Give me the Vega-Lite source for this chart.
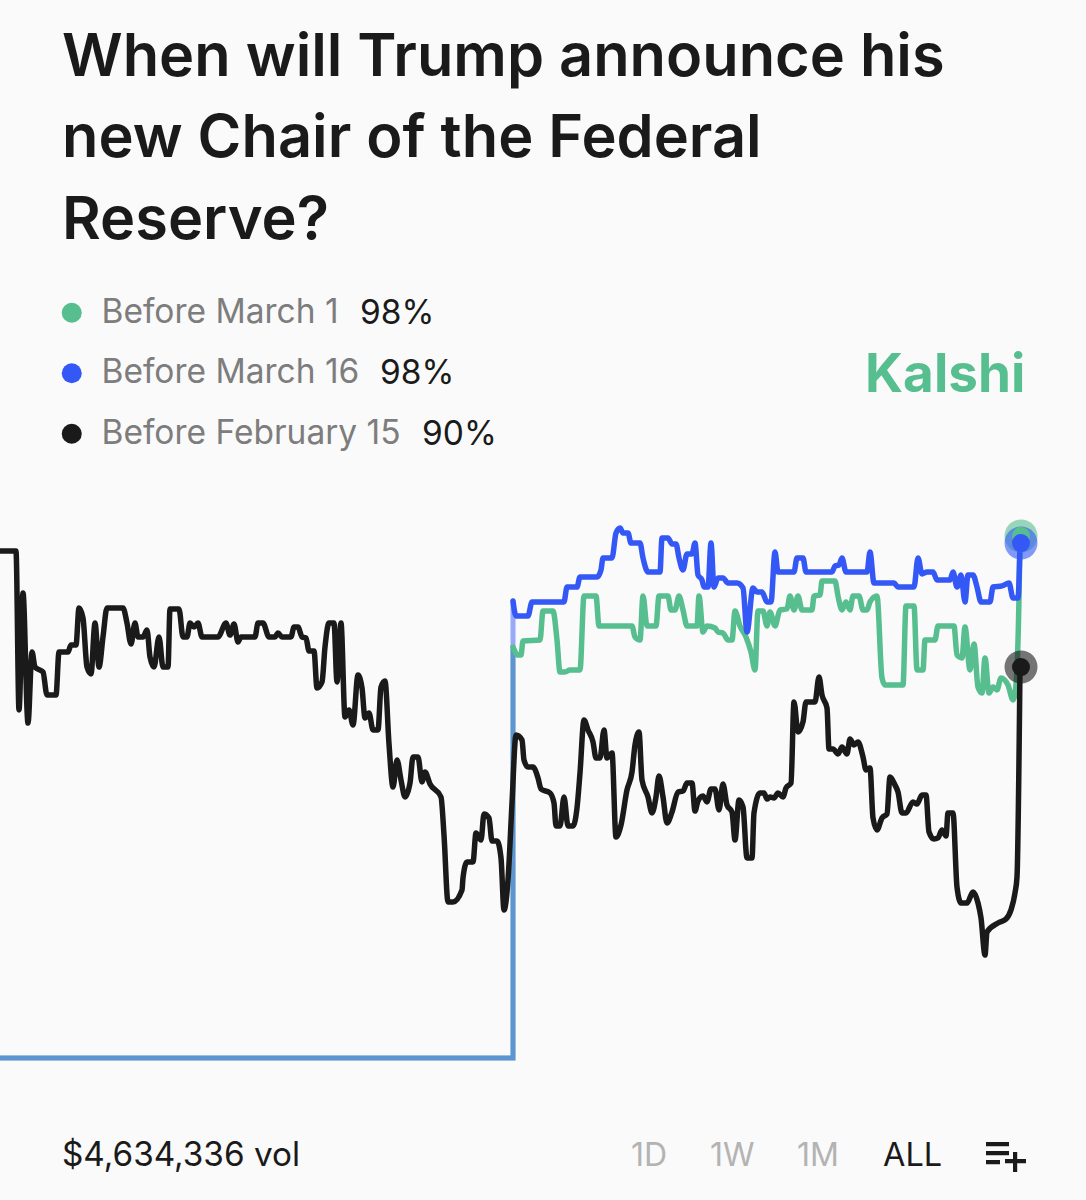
{"$schema":"https://vega.github.io/schema/vega-lite/v6.json","width":1086,"height":700,"autosize":"none","padding":{"left":0,"top":500,"right":0,"bottom":0},"background":"#fafafa","config":{"view":{"stroke":null},"font":"Inter"},
"title":{"text":["When will Trump announce his","new Chair of the Federal","Reserve?"],"anchor":"start","frame":"group","align":"left","dx":62,"offset":45,"font":"Inter","fontSize":59.5,"fontWeight":600,"lineHeight":81.5,"color":"#1a1a1a"},
"datasets":{
"listing":[{"series":"Before March 1","t":0,"pct":65.63},{"series":"Before March 1","t":513,"pct":65.63},{"series":"Before March 1","t":513,"pct":91.31},{"series":"Before March 16","t":0,"pct":65.63},{"series":"Before March 16","t":513,"pct":65.63},{"series":"Before March 16","t":513,"pct":94.19}],
"latest":[{"series":"Before March 1","t":1021,"pct":98.25},{"series":"Before March 16","t":1021,"pct":97.81},{"series":"Before February 15","t":1021,"pct":90.06}],
"feb15":[{"t":0,"pct":97.31},{"t":16,"pct":97.31},{"t":19,"pct":87.38},{"t":23,"pct":94.69},{"t":28,"pct":86.56},{"t":32,"pct":91},{"t":35,"pct":90.06},{"t":43,"pct":89.75},{"t":47,"pct":88.31},{"t":56,"pct":88.31},{"t":59,"pct":91},{"t":68,"pct":91},{"t":71,"pct":91.44},{"t":76,"pct":91.44},{"t":79,"pct":93.75},{"t":83,"pct":93.13},{"t":87,"pct":90.06},{"t":91,"pct":89.63},{"t":95,"pct":92.81},{"t":99,"pct":90.06},{"t":103,"pct":91.94},{"t":107,"pct":93.75},{"t":123,"pct":93.75},{"t":127,"pct":92.81},{"t":131,"pct":91.5},{"t":135,"pct":92.81},{"t":138,"pct":91.94},{"t":143,"pct":91.94},{"t":147,"pct":92.38},{"t":150,"pct":90.69},{"t":154,"pct":90.06},{"t":159,"pct":91.94},{"t":163,"pct":90.06},{"t":168,"pct":90.06},{"t":170,"pct":93.69},{"t":179,"pct":93.69},{"t":183,"pct":91.94},{"t":187,"pct":91.94},{"t":190,"pct":92.81},{"t":194,"pct":92.56},{"t":198,"pct":92.81},{"t":202,"pct":91.94},{"t":218,"pct":91.94},{"t":226,"pct":92.81},{"t":230,"pct":92.06},{"t":234,"pct":92.75},{"t":238,"pct":91.63},{"t":241,"pct":91.94},{"t":255,"pct":91.94},{"t":258,"pct":92.81},{"t":263,"pct":92.81},{"t":269,"pct":91.94},{"t":275,"pct":91.94},{"t":278,"pct":92.19},{"t":282,"pct":91.94},{"t":291,"pct":91.94},{"t":294,"pct":92.56},{"t":298,"pct":92.56},{"t":302,"pct":91.94},{"t":306,"pct":91.88},{"t":309,"pct":91.06},{"t":314,"pct":91.06},{"t":317,"pct":88.75},{"t":322,"pct":89.13},{"t":325,"pct":91.31},{"t":329,"pct":92.81},{"t":334,"pct":92.81},{"t":337,"pct":89.13},{"t":341,"pct":92.81},{"t":345,"pct":86.94},{"t":349,"pct":87.38},{"t":353,"pct":86.44},{"t":358,"pct":89.56},{"t":362,"pct":88.75},{"t":365,"pct":86.88},{"t":369,"pct":87.19},{"t":373,"pct":86.13},{"t":378,"pct":86.13},{"t":381,"pct":88.81},{"t":385,"pct":89.19},{"t":389,"pct":85.25},{"t":393,"pct":82.56},{"t":397,"pct":84.25},{"t":401,"pct":83},{"t":405,"pct":81.94},{"t":410,"pct":82.81},{"t":413,"pct":84.44},{"t":418,"pct":84.44},{"t":422,"pct":82.88},{"t":425,"pct":83.5},{"t":430,"pct":82.75},{"t":441,"pct":81.94},{"t":444,"pct":79.56},{"t":448,"pct":75.38},{"t":453,"pct":75.38},{"t":462,"pct":76.13},{"t":463,"pct":76.88},{"t":467,"pct":77.88},{"t":473,"pct":77.88},{"t":476,"pct":79.69},{"t":481,"pct":79.25},{"t":484,"pct":80.88},{"t":489,"pct":80.63},{"t":492,"pct":79.19},{"t":497,"pct":79.19},{"t":501,"pct":78.13},{"t":504,"pct":74.88},{"t":508,"pct":76.75},{"t":512,"pct":81.56},{"t":516,"pct":85.81},{"t":522,"pct":85.5},{"t":524,"pct":84.25},{"t":528,"pct":83.81},{"t":533,"pct":83.81},{"t":538,"pct":83.13},{"t":541,"pct":82.44},{"t":550,"pct":82.19},{"t":554,"pct":81.56},{"t":556,"pct":80.13},{"t":560,"pct":80.13},{"t":564,"pct":81.94},{"t":568,"pct":80.13},{"t":573,"pct":80.13},{"t":577,"pct":81.25},{"t":580,"pct":83.44},{"t":584,"pct":86.75},{"t":588,"pct":86.13},{"t":593,"pct":85.38},{"t":596,"pct":84.38},{"t":600,"pct":84.38},{"t":604,"pct":86.13},{"t":607,"pct":84.38},{"t":612,"pct":84.69},{"t":616,"pct":79.44},{"t":621,"pct":80.19},{"t":627,"pct":82.38},{"t":632,"pct":83.5},{"t":635,"pct":85.19},{"t":639,"pct":86},{"t":642,"pct":83},{"t":648,"pct":81.94},{"t":652,"pct":80.94},{"t":656,"pct":81.94},{"t":659,"pct":83.25},{"t":663,"pct":81.94},{"t":667,"pct":80.31},{"t":672,"pct":81},{"t":678,"pct":82.25},{"t":683,"pct":82.31},{"t":687,"pct":82.81},{"t":692,"pct":82.81},{"t":695,"pct":81.06},{"t":698,"pct":81.69},{"t":703,"pct":82},{"t":707,"pct":81.63},{"t":711,"pct":82.44},{"t":715,"pct":82.44},{"t":719,"pct":81.13},{"t":723,"pct":82.75},{"t":727,"pct":81.44},{"t":732,"pct":81},{"t":735,"pct":79.25},{"t":739,"pct":81.75},{"t":743,"pct":81.31},{"t":747,"pct":78.13},{"t":752,"pct":78.13},{"t":754,"pct":80.94},{"t":760,"pct":82.19},{"t":764,"pct":82.19},{"t":767,"pct":81.81},{"t":770,"pct":81.94},{"t":774,"pct":81.88},{"t":778,"pct":82.19},{"t":783,"pct":81.94},{"t":786,"pct":82.5},{"t":791,"pct":82.81},{"t":794,"pct":87.88},{"t":798,"pct":86},{"t":803,"pct":86.63},{"t":806,"pct":87.88},{"t":815,"pct":87.88},{"t":819,"pct":89.44},{"t":822,"pct":88.31},{"t":827,"pct":87.5},{"t":829,"pct":84.94},{"t":833,"pct":84.94},{"t":838,"pct":84.63},{"t":842,"pct":85.06},{"t":847,"pct":84.63},{"t":850,"pct":85.56},{"t":854,"pct":85.19},{"t":858,"pct":85.38},{"t":863,"pct":84.44},{"t":866,"pct":83.63},{"t":870,"pct":83.75},{"t":873,"pct":80.63},{"t":877,"pct":79.88},{"t":882,"pct":80.63},{"t":887,"pct":80.88},{"t":890,"pct":83.19},{"t":895,"pct":82.69},{"t":898,"pct":82.25},{"t":902,"pct":80.94},{"t":906,"pct":80.94},{"t":913,"pct":81.63},{"t":917,"pct":81.5},{"t":922,"pct":82.06},{"t":926,"pct":82.06},{"t":929,"pct":79.75},{"t":934,"pct":79.31},{"t":938,"pct":79.38},{"t":942,"pct":79.88},{"t":946,"pct":79.5},{"t":948,"pct":80.94},{"t":953,"pct":80.94},{"t":957,"pct":76.31},{"t":961,"pct":75.31},{"t":967,"pct":75.31},{"t":973,"pct":76},{"t":978,"pct":75.31},{"t":981,"pct":74.38},{"t":985,"pct":72.06},{"t":987,"pct":73.5},{"t":998,"pct":74.06},{"t":1006,"pct":74.31},{"t":1011,"pct":74.88},{"t":1015,"pct":75.94},{"t":1017,"pct":76.94},{"t":1020,"pct":90.06}],
"mar16":[{"t":513,"pct":94.19},{"t":516,"pct":93.25},{"t":528,"pct":93.25},{"t":532,"pct":94.13},{"t":564,"pct":94.13},{"t":567,"pct":95.06},{"t":577,"pct":95.06},{"t":580,"pct":95.69},{"t":597,"pct":95.69},{"t":601,"pct":96.13},{"t":603,"pct":96.88},{"t":612,"pct":96.88},{"t":616,"pct":98.44},{"t":620,"pct":98.75},{"t":623,"pct":98.44},{"t":628,"pct":98.44},{"t":631,"pct":97.81},{"t":640,"pct":97.81},{"t":643,"pct":96.88},{"t":648,"pct":96},{"t":660,"pct":96},{"t":662,"pct":98.13},{"t":668,"pct":98.13},{"t":672,"pct":97.75},{"t":676,"pct":97.75},{"t":679,"pct":96.88},{"t":683,"pct":96.13},{"t":687,"pct":97.13},{"t":692,"pct":97.13},{"t":695,"pct":97.81},{"t":698,"pct":95.81},{"t":702,"pct":95.5},{"t":704,"pct":95.06},{"t":708,"pct":95.06},{"t":711,"pct":97.81},{"t":714,"pct":95.06},{"t":718,"pct":95.63},{"t":723,"pct":95.63},{"t":728,"pct":95.31},{"t":737,"pct":95.31},{"t":743,"pct":95},{"t":747,"pct":92.25},{"t":753,"pct":95},{"t":757,"pct":94.75},{"t":762,"pct":94.75},{"t":767,"pct":94.13},{"t":771,"pct":94.13},{"t":775,"pct":97.25},{"t":778,"pct":96},{"t":794,"pct":96},{"t":797,"pct":96.88},{"t":803,"pct":96.88},{"t":806,"pct":96},{"t":832,"pct":96},{"t":835,"pct":96.38},{"t":839,"pct":96.44},{"t":842,"pct":96.88},{"t":846,"pct":96},{"t":867,"pct":96},{"t":870,"pct":97.25},{"t":874,"pct":95.31},{"t":894,"pct":95.31},{"t":898,"pct":95.06},{"t":914,"pct":95.06},{"t":918,"pct":96.88},{"t":922,"pct":95.88},{"t":927,"pct":96},{"t":933,"pct":96},{"t":937,"pct":95.5},{"t":950,"pct":95.5},{"t":953,"pct":96},{"t":957,"pct":95.06},{"t":961,"pct":95.81},{"t":965,"pct":94.13},{"t":968,"pct":95.81},{"t":973,"pct":95.81},{"t":977,"pct":95.06},{"t":981,"pct":94.13},{"t":990,"pct":94.13},{"t":993,"pct":95.06},{"t":1002,"pct":95.13},{"t":1009,"pct":95.31},{"t":1013,"pct":94.38},{"t":1018,"pct":94.38},{"t":1020,"pct":97.81}],
"mar1":[{"t":513,"pct":91.31},{"t":518,"pct":90.81},{"t":521,"pct":90.81},{"t":523,"pct":91.69},{"t":540,"pct":91.75},{"t":543,"pct":93.56},{"t":553,"pct":93.56},{"t":557,"pct":91.75},{"t":560,"pct":89.75},{"t":565,"pct":89.75},{"t":570,"pct":89.88},{"t":580,"pct":89.88},{"t":584,"pct":94.5},{"t":596,"pct":94.5},{"t":599,"pct":92.63},{"t":632,"pct":92.63},{"t":635,"pct":91.94},{"t":640,"pct":91.75},{"t":643,"pct":94.5},{"t":647,"pct":92.63},{"t":656,"pct":92.63},{"t":659,"pct":94.5},{"t":668,"pct":94.5},{"t":671,"pct":93.63},{"t":675,"pct":93.63},{"t":679,"pct":94.5},{"t":683,"pct":93.63},{"t":687,"pct":92.63},{"t":697,"pct":92.63},{"t":699,"pct":94.5},{"t":703,"pct":92.25},{"t":707,"pct":92.63},{"t":715,"pct":92.5},{"t":718,"pct":92.25},{"t":723,"pct":92.19},{"t":728,"pct":91.75},{"t":732,"pct":91.75},{"t":735,"pct":93.56},{"t":740,"pct":92.63},{"t":746,"pct":91.94},{"t":751,"pct":91},{"t":755,"pct":89.88},{"t":758,"pct":93.56},{"t":763,"pct":93.56},{"t":767,"pct":92.63},{"t":770,"pct":93.5},{"t":775,"pct":92.63},{"t":780,"pct":93.63},{"t":787,"pct":93.69},{"t":790,"pct":94.5},{"t":794,"pct":93.63},{"t":798,"pct":94.5},{"t":802,"pct":93.63},{"t":812,"pct":93.63},{"t":814,"pct":94.5},{"t":820,"pct":94.56},{"t":822,"pct":95.44},{"t":835,"pct":95.44},{"t":838,"pct":94.5},{"t":842,"pct":93.63},{"t":846,"pct":94.13},{"t":850,"pct":93.63},{"t":853,"pct":94.5},{"t":859,"pct":94.5},{"t":863,"pct":93.63},{"t":867,"pct":93.63},{"t":870,"pct":94.13},{"t":877,"pct":94.5},{"t":882,"pct":89.38},{"t":885,"pct":88.94},{"t":903,"pct":88.94},{"t":906,"pct":93.88},{"t":914,"pct":93.88},{"t":917,"pct":89.88},{"t":923,"pct":89.88},{"t":925,"pct":91.75},{"t":935,"pct":91.75},{"t":938,"pct":92.63},{"t":954,"pct":92.63},{"t":957,"pct":90.81},{"t":962,"pct":90.63},{"t":965,"pct":92.56},{"t":970,"pct":89.88},{"t":974,"pct":91.5},{"t":978,"pct":88.81},{"t":982,"pct":88.44},{"t":985,"pct":90.63},{"t":989,"pct":88.44},{"t":993,"pct":88.81},{"t":997,"pct":88.63},{"t":1001,"pct":89.38},{"t":1008,"pct":88.94},{"t":1013,"pct":88},{"t":1016,"pct":88.94},{"t":1019,"pct":94.38},{"t":1020,"pct":98}]
},
"encoding":{"x":{"field":"t","type":"quantitative","axis":null,"scale":{"domain":[0,1086],"nice":false,"zero":false}},"y":{"field":"pct","type":"quantitative","axis":null,"scale":{"domain":[56.75,100.5],"nice":false,"zero":false}}},
"layer":[
{"data":{"name":"listing"},"transform":[{"filter":"datum.series=='Before March 1'"}],"mark":{"type":"line","stroke":"#56be8f","strokeWidth":5,"opacity":0.7,"strokeJoin":"miter"}},
{"data":{"name":"listing"},"transform":[{"filter":"datum.series=='Before March 16'"}],"mark":{"type":"line","stroke":"#3458f5","strokeWidth":5,"opacity":0.5,"strokeJoin":"miter"}},
{"data":{"name":"mar1"},"mark":{"type":"line","interpolate":"monotone","stroke":"#56be8f","strokeWidth":5.5,"strokeJoin":"round","strokeCap":"round"}},
{"data":{"name":"mar16"},"mark":{"type":"line","interpolate":"monotone","stroke":"#3458f5","strokeWidth":5.5,"strokeJoin":"round","strokeCap":"round"}},
{"data":{"name":"feb15"},"mark":{"type":"line","interpolate":"monotone","stroke":"#1a1a1a","strokeWidth":5.5,"strokeJoin":"round","strokeCap":"round"}},
{"data":{"name":"latest"},"mark":{"type":"point","filled":true,"shape":"circle","size":1089,"opacity":0.6},"encoding":{"fill":{"field":"series","type":"nominal","scale":{"domain":["Before March 1","Before March 16","Before February 15"],"range":["#56be8f","#3458f5","#1a1a1a"]},"legend":{"orient":"none","legendX":55,"legendY":-204,"title":null,"symbolType":"circle","symbolSize":400,"symbolStrokeWidth":0,"symbolOpacity":1,"labelFont":"Inter","labelFontSize":33.5,"labelColor":"#7d7d7d","labelOffset":13,"rowPadding":25.5,"labelLimit":500}}}},
{"data":{"name":"latest"},"mark":{"type":"point","filled":true,"shape":"circle","size":324,"opacity":1},"encoding":{"fill":{"field":"series","type":"nominal","scale":{"domain":["Before March 1","Before March 16","Before February 15"],"range":["#56be8f","#3458f5","#1a1a1a"]},"legend":{"orient":"none","legendX":55,"legendY":-204,"title":null,"symbolType":"circle","symbolSize":400,"symbolStrokeWidth":0,"symbolOpacity":1,"labelFont":"Inter","labelFontSize":33.5,"labelColor":"#7d7d7d","labelOffset":13,"rowPadding":25.5,"labelLimit":500}}}},
{"data":{"values":[{"label":"98%"}]},"mark":{"type":"text","align":"left","baseline":"middle","font":"Inter","fontSize":33.5,"color":"#1a1a1a"},"encoding":{"text":{"field":"label"},"x":{"value":360},"y":{"value":-186}}},
{"data":{"values":[{"label":"98%"}]},"mark":{"type":"text","align":"left","baseline":"middle","font":"Inter","fontSize":33.5,"color":"#1a1a1a"},"encoding":{"text":{"field":"label"},"x":{"value":380},"y":{"value":-126}}},
{"data":{"values":[{"label":"90%"}]},"mark":{"type":"text","align":"left","baseline":"middle","font":"Inter","fontSize":33.5,"color":"#1a1a1a"},"encoding":{"text":{"field":"label"},"x":{"value":422},"y":{"value":-65}}},
{"data":{"values":[{"label":"Kalshi"}]},"mark":{"type":"text","align":"left","baseline":"alphabetic","font":"Inter","fontSize":53,"fontWeight":700,"color":"#56be8f"},"encoding":{"text":{"field":"label"},"x":{"value":865},"y":{"value":-108}}},
{"data":{"values":[{"label":"$4,634,336 vol"}]},"mark":{"type":"text","align":"left","baseline":"alphabetic","font":"Inter","fontSize":33.3,"color":"#1a1a1a"},"encoding":{"text":{"field":"label"},"x":{"value":62},"y":{"value":666}}},
{"data":{"values":[{"label":"1D"}]},"mark":{"type":"text","align":"left","baseline":"alphabetic","font":"Inter","fontSize":32,"color":"#b3b3b3"},"encoding":{"text":{"field":"label"},"x":{"value":631},"y":{"value":666}}},
{"data":{"values":[{"label":"1W"}]},"mark":{"type":"text","align":"left","baseline":"alphabetic","font":"Inter","fontSize":32,"color":"#b3b3b3"},"encoding":{"text":{"field":"label"},"x":{"value":710},"y":{"value":666}}},
{"data":{"values":[{"label":"1M"}]},"mark":{"type":"text","align":"left","baseline":"alphabetic","font":"Inter","fontSize":32,"color":"#b3b3b3"},"encoding":{"text":{"field":"label"},"x":{"value":797},"y":{"value":666}}},
{"data":{"values":[{"label":"ALL"}]},"mark":{"type":"text","align":"left","baseline":"alphabetic","font":"Inter","fontSize":32.5,"color":"#1a1a1a"},"encoding":{"text":{"field":"label"},"x":{"value":883},"y":{"value":666}}},
{"data":{"values":[{"label":"add to list"}]},"mark":{"type":"point","filled":true,"fill":"#1a1a1a","opacity":1,"size":1600,"shape":"M-1-.75H.15V-.54H-1ZM-1-.3H.15V-.09H-1ZM-1 .15H-.3V.36H-1ZM-.05 .1H.35V-.25H.56V.1H1V.31H.56V.75H.35V.31H-.05Z"},"encoding":{"x":{"value":1006},"y":{"value":657}}}
]}
